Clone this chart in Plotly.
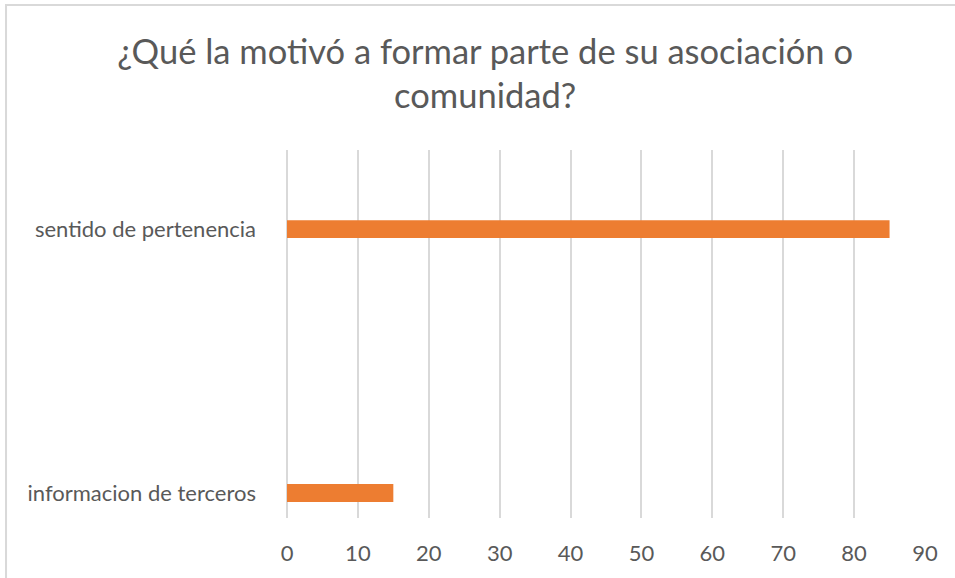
import plotly.graph_objects as go

categories = ["informacion de terceros", "sentido de pertenencia"]
values = [15, 85]
x_ticks = [0, 10, 20, 30, 40, 50, 60, 70, 80, 90]

text_color = "#595959"
bar_color = "#ED7D31"
grid_color = "#D9D9D9"
font_family = "Lato, Carlito, Liberation Sans, sans-serif"

fig = go.Figure()

fig.add_trace(
    go.Bar(
        x=values,
        y=categories,
        orientation="h",
        marker=dict(color=bar_color, line=dict(width=0)),
        width=0.068,
        showlegend=False,
    )
)

fig.update_layout(
    width=955,
    height=578,
    paper_bgcolor="white",
    plot_bgcolor="white",
    margin=dict(l=287, r=30, t=150, b=60),
    font=dict(family=font_family, color=text_color, size=22),
    title=dict(
        text="¿Qué la motivó a formar parte de su asociación o<br>comunidad?",
        x=0.508,
        xref="container",
        xanchor="center",
        y=0.89,
        yref="container",
        yanchor="top",
        font=dict(size=34.5, color=text_color, family=font_family),
    ),
    xaxis=dict(
        range=[0, 90],
        tickvals=x_ticks,
        showgrid=True,
        gridcolor=grid_color,
        gridwidth=1.5,
        zeroline=True,
        zerolinecolor=grid_color,
        zerolinewidth=1.5,
        showline=False,
        ticks="",
        ticklabelstandoff=20,
        tickfont=dict(size=22, color=text_color),
    ),
    yaxis=dict(
        type="category",
        categoryorder="array",
        categoryarray=categories,
        range=[-0.095, 1.3],
        showgrid=False,
        zeroline=False,
        showline=False,
        ticks="",
        ticklabelstandoff=30,
        tickfont=dict(size=22, color=text_color),
    ),
    shapes=[
        dict(
            type="rect",
            xref="paper",
            yref="paper",
            x0=-0.4404,
            x1=1.06,
            y0=-0.17,
            y1=1.394,
            line=dict(color=grid_color, width=2),
            fillcolor="rgba(0,0,0,0)",
            layer="below",
        )
    ],
)

# drop the page's default body margin so the figure sits at the window corner
fig.write_html(
    "out.html",
    config={"displayModeBar": False},
    post_script="document.body.style.margin='0';",
)
